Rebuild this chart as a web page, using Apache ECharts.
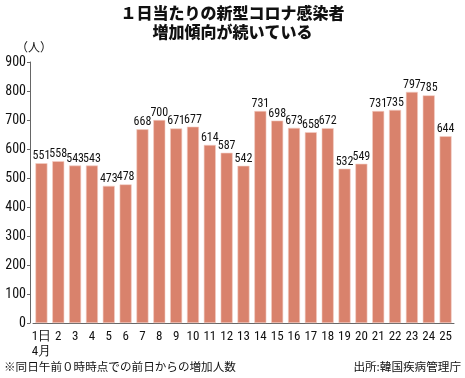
<!DOCTYPE html>
<html><head><meta charset="utf-8">
<script src="https://cdn.jsdelivr.net/npm/echarts@6/dist/echarts.min.js"></script>
<style>html,body{margin:0;padding:0;background:#fff}#c{width:465px;height:378px}</style>
</head><body><div id="c"></div>
<script>
const categories = ['1日\n4月','2','3','4','5','6','7','8','9','10','11','12','13','14','15','16','17','18','19','20','21','22','23','24','25'];
const values = [551,558,543,543,473,478,668,700,671,677,614,587,542,731,698,673,658,672,532,549,731,735,797,785,644];
const yTicks = [0,100,200,300,400,500,600,700,800,900];
const titleLines = ['１日当たりの新型コロナ感染者','増加傾向が続いている'];
const unitLabel = '（人）';
const footnote = '※同日午前０時時点での前日からの増加人数';
const source = '出所:韓国疾病管理庁';

const narrow = '"Roboto Condensed","Open Sans Condensed",sans-serif';
const cjk = '"Noto Sans CJK JP",sans-serif';
const chart = echarts.init(document.getElementById('c'), null, {renderer:'canvas'});
chart.setOption({
  backgroundColor:'#fff',
  animation:false,
  title:{text:titleLines.join('\n'), left:'center', top:-2,
    textStyle:{fontFamily:cjk, fontWeight:900, fontSize:16, lineHeight:19, color:'#111'}},
  grid:{left:33, right:11, top:62, bottom:55},
  xAxis:{type:'category', data:categories,
    axisLine:{lineStyle:{color:'#666', width:1}},
    axisTick:{show:false},
    axisLabel:{interval:0, margin:6, fontFamily:narrow, fontSize:13, color:'#111', lineHeight:15,
      formatter:v=>v}},
  yAxis:{type:'value', min:0, max:900, interval:100, offset:3,
    axisLine:{show:true, lineStyle:{color:'#666'}},
    axisTick:{show:true, length:3, lineStyle:{color:'#666'}},
    splitLine:{show:false},
    axisLabel:{margin:4, fontFamily:narrow, fontSize:14, color:'#111',
      formatter:v=>yTicks.includes(v)?String(v):''}},
  series:[{type:'bar', data:values, barWidth:12,
    itemStyle:{color:'#d9826c', borderColor:'#f3cfc4', borderWidth:0.6},
    label:{show:true, position:'top', distance:1, fontFamily:narrow, fontSize:12, color:'#111'}}],
  graphic:[
    {type:'text', left:16, top:41, style:{text:unitLabel, font:'12px '+cjk, fill:'#111'}},
    {type:'text', left:4, top:361, style:{text:footnote, font:'11.6px '+cjk, fill:'#111'}},
    {type:'text', right:4, top:361, style:{text:source, font:'11.6px '+cjk, fill:'#111'}}
  ]
});
</script></body></html>
